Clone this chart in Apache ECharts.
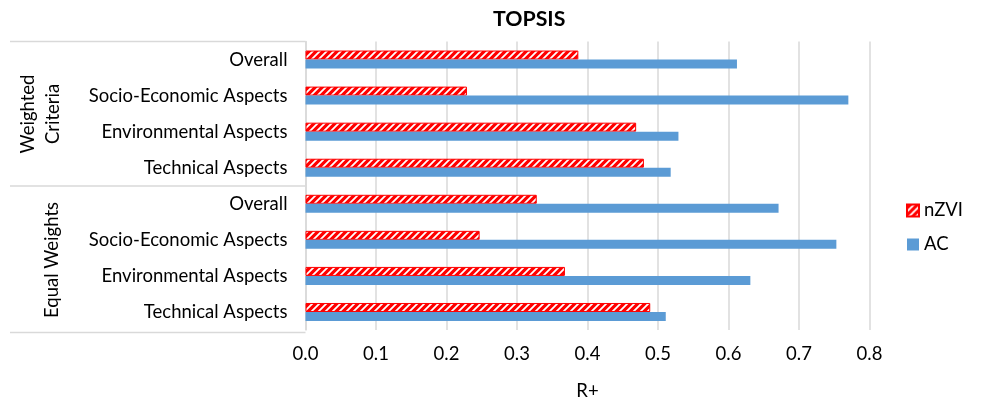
<!DOCTYPE html>
<html>
<head>
<meta charset="utf-8">
<script src="https://cdn.jsdelivr.net/npm/echarts@6/dist/echarts.min.js"></script>
<style>
  html, body { margin: 0; padding: 0; background: #fff; }
  #chart { width: 986px; height: 406px; }
</style>
</head>
<body>
<div id="chart"></div>
<script>
// Criteria rows, top to bottom
const categories = [
  'Overall', 'Socio-Economic Aspects', 'Environmental Aspects', 'Technical Aspects',
  'Overall ', 'Socio-Economic Aspects ', 'Environmental Aspects ', 'Technical Aspects '
];
const groupLabels = ['Weighted\nCriteria', 'Equal Weights'];
const nzviValues = [0.387, 0.229, 0.469, 0.480, 0.328, 0.247, 0.368, 0.489];
const acValues   = [0.612, 0.770, 0.529, 0.518, 0.671, 0.753, 0.631, 0.511];
const xTicks = [0.0, 0.1, 0.2, 0.3, 0.4, 0.5, 0.6, 0.7, 0.8];

const FONT = 'Lato, "Open Sans", sans-serif';
const FS = 18.5;
const LINE = '#d9d9d9';

// red fill with white diagonal hatching
function hatch() {
  const c = document.createElement('canvas');
  c.width = 7; c.height = 7;
  const g = c.getContext('2d');
  g.fillStyle = '#ff0000';
  g.fillRect(0, 0, 7, 7);
  g.strokeStyle = '#ffffff';
  g.lineWidth = 1.8;
  g.beginPath();
  g.moveTo(-1, 8); g.lineTo(8, -1);
  g.moveTo(-8, 8); g.lineTo(1, -1);
  g.moveTo(6, 8); g.lineTo(15, -1);
  g.stroke();
  return c;
}

const chart = echarts.init(document.getElementById('chart'), null, { renderer: 'canvas' });

const gridLeft = 305.5, gridTop = 41.5, gridBottomY = 332.5;

chart.setOption({
  animation: false,
  title: {
    text: 'TOPSIS', left: 488, top: 4,
    textStyle: { fontFamily: FONT, fontWeight: 'bold', fontSize: 21.3, color: '#000' }
  },
  legend: {
    orient: 'vertical', left: 901, top: 196, itemGap: 15,
    itemWidth: 12, itemHeight: 12,
    textStyle: { fontFamily: FONT, fontSize: FS, color: '#000' },
    data: [{ name: 'nZVI', icon: 'rect' }, { name: 'AC', icon: 'rect' }]
  },
  grid: { left: gridLeft, right: 986 - 869.5, top: gridTop, bottom: 406 - gridBottomY, containLabel: false },
  xAxis: {
    type: 'value', min: 0, max: 0.8, interval: 0.1,
    name: 'R+', nameLocation: 'middle', nameGap: 52,
    nameTextStyle: { fontFamily: FONT, fontSize: FS, color: '#000' },
    axisLine: { show: false }, axisTick: { show: false },
    axisLabel: {
      fontFamily: FONT, fontSize: FS, color: '#000', margin: 15,
      formatter: v => v.toFixed(1)
    },
    splitLine: { lineStyle: { color: LINE, width: 1.5 } }
  },
  yAxis: {
    type: 'category', data: categories, inverse: true,
    axisLine: { lineStyle: { color: LINE, width: 1.5 } },
    axisTick: { show: false },
    axisLabel: {
      fontFamily: FONT, fontSize: FS, color: '#000', margin: 18,
      formatter: v => v.trim()
    }
  },
  series: [
    {
      name: 'nZVI', type: 'bar', data: nzviValues,
      barWidth: 9, barGap: '0%',
      itemStyle: { color: { image: hatch(), repeat: 'repeat' }, borderColor: '#ff0000', borderWidth: 1 }
    },
    {
      name: 'AC', type: 'bar', data: acValues,
      barWidth: 9, barGap: '0%',
      itemStyle: { color: '#5b9bd5' }
    }
  ],
  graphic: [
    { type: 'line', shape: { x1: 10, y1: gridTop, x2: gridLeft, y2: gridTop }, style: { stroke: LINE, lineWidth: 1.5 } },
    { type: 'line', shape: { x1: 10, y1: 186, x2: gridLeft, y2: 186 }, style: { stroke: LINE, lineWidth: 1.5 } },
    { type: 'line', shape: { x1: 10, y1: gridBottomY, x2: gridLeft, y2: gridBottomY }, style: { stroke: LINE, lineWidth: 1.5 } },
    {
      type: 'text', x: 41, y: 114, rotation: Math.PI / 2,
      style: { text: groupLabels[0], fill: '#000', font: FS + 'px ' + FONT, align: 'center', verticalAlign: 'middle', lineHeight: 25 }
    },
    {
      type: 'text', x: 52, y: 260, rotation: Math.PI / 2,
      style: { text: groupLabels[1], fill: '#000', font: FS + 'px ' + FONT, align: 'center', verticalAlign: 'middle' }
    }
  ]
});
</script>
</body>
</html>
